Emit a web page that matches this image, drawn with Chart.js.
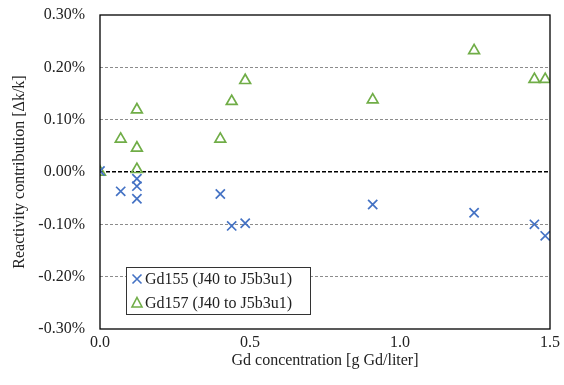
<!DOCTYPE html>
<html>
<head>
<meta charset="utf-8">
<script src="https://cdn.jsdelivr.net/npm/chart.js@4/dist/chart.umd.min.js"></script>
<style>
  html, body { margin: 0; padding: 0; background: #fff; }
  #wrap { width: 564px; height: 385px; position: relative; }
</style>
</head>
<body>
<div id="wrap"><canvas id="chart"></canvas></div>
<script>
// Gd concentration [g Gd/liter]
const gd155X = [0.0, 0.069, 0.123, 0.123, 0.123, 0.401, 0.439, 0.484, 0.909, 1.247, 1.448, 1.484];
const gd155Y = [0.002, -0.037, -0.013, -0.027, -0.051, -0.042, -0.103, -0.098, -0.062, -0.078, -0.100, -0.122];

const gd157X = [0.0, 0.069, 0.123, 0.123, 0.123, 0.401, 0.439, 0.484, 0.909, 1.247, 1.448, 1.484];
const gd157Y = [0.0, 0.063, 0.119, 0.046, 0.005, 0.063, 0.135, 0.175, 0.138, 0.232, 0.177, 0.177];

const seriesLabels = ["Gd155 (J40 to J5b3u1)", "Gd157 (J40 to J5b3u1)"];
const xTicks = [0, 0.5, 1.0, 1.5];
const yTicks = [-0.3, -0.2, -0.1, 0, 0.1, 0.2, 0.3];

const BLUE = "#4472C4";
const GREEN = "#70AD47";
const FONT = "'Liberation Serif', 'Times New Roman', serif";

const toPoints = (xs, ys) => xs.map((x, i) => ({ x, y: ys[i] }));

// frame + in-plot legend
const framePlugin = {
  id: "frame",
  afterDraw(chart) {
    const { ctx, chartArea: a } = chart;
    ctx.save();
    ctx.strokeStyle = "#000";
    ctx.lineWidth = 1.3;
    ctx.strokeRect(a.left, a.top, a.right - a.left, a.bottom - a.top);

    // legend box
    const bx = 126, by = 267, bw = 184, bh = 47;
    ctx.fillStyle = "#fff";
    ctx.fillRect(bx, by, bw, bh);
    ctx.strokeStyle = "#333";
    ctx.lineWidth = 1;
    ctx.strokeRect(bx + 0.5, by + 0.5, bw, bh);

    const rows = [by + 12, by + 36];
    // cross
    ctx.strokeStyle = BLUE;
    ctx.lineWidth = 1.6;
    ctx.beginPath();
    const cx = 137, s = 4.5;
    ctx.moveTo(cx - s, rows[0] - s); ctx.lineTo(cx + s, rows[0] + s);
    ctx.moveTo(cx + s, rows[0] - s); ctx.lineTo(cx - s, rows[0] + s);
    ctx.stroke();
    // triangle
    ctx.strokeStyle = GREEN;
    ctx.beginPath();
    ctx.moveTo(cx, rows[1] - 5.5);
    ctx.lineTo(cx + 5, rows[1] + 4);
    ctx.lineTo(cx - 5, rows[1] + 4);
    ctx.closePath();
    ctx.stroke();

    ctx.fillStyle = "#222";
    ctx.font = "16px " + FONT;
    ctx.textBaseline = "middle";
    ctx.fillText(seriesLabels[0], 145, rows[0] + 1);
    ctx.fillText(seriesLabels[1], 145, rows[1] + 1);
    ctx.restore();
  }
};

new Chart(document.getElementById("chart"), {
  type: "scatter",
  data: {
    datasets: [
      {
        label: seriesLabels[0],
        data: toPoints(gd155X, gd155Y),
        pointStyle: "crossRot",
        pointRadius: 6.5,
        pointHoverRadius: 6.5,
        borderColor: BLUE,
        backgroundColor: BLUE,
        pointBorderWidth: 1.7,
      },
      {
        label: seriesLabels[1],
        data: toPoints(gd157X, gd157Y),
        pointStyle: "triangle",
        pointRadius: 6.2,
        pointHoverRadius: 6.2,
        borderColor: GREEN,
        backgroundColor: "rgba(0,0,0,0)",
        pointBorderWidth: 1.7,
      },
    ],
  },
  options: {
    responsive: true,
    maintainAspectRatio: false,
    animation: false,
    layout: { padding: { top: 15, right: 14, left: 0, bottom: 0 } },
    plugins: {
      legend: { display: false },
      tooltip: { enabled: false },
    },
    scales: {
      x: {
        type: "linear",
        min: 0,
        max: 1.5,
        afterBuildTicks: (scale) => { scale.ticks = xTicks.map((v) => ({ value: v })); },
        afterFit: (scale) => { scale.height = 56; scale.paddingLeft = 0; scale.paddingRight = 0; },
        ticks: {
          padding: 4,
          color: "#222",
          font: { family: FONT, size: 16 },
          callback: (v) => Number(v).toFixed(1),
        },
        grid: { display: false, drawTicks: false },
        border: { display: false },
        title: {
          display: true,
          text: "Gd concentration [g Gd/liter]",
          color: "#222",
          font: { family: FONT, size: 16 },
          padding: { top: 0, bottom: 15 },
        },
      },
      y: {
        type: "linear",
        min: -0.3,
        max: 0.3,
        afterBuildTicks: (scale) => { scale.ticks = yTicks.map((v) => ({ value: v })); },
        afterFit: (scale) => { scale.width = 100; scale.paddingTop = 0; scale.paddingBottom = 0; },
        ticks: {
          padding: 15,
          color: "#222",
          font: { family: FONT, size: 16 },
          callback: (v) => (Math.round(v * 100) / 100).toFixed(2) + "%",
        },
        grid: {
          drawTicks: false,
          color: (c) => {
            const v = Math.round(c.tick.value * 100);
            if (v === 30 || v === -30) return "rgba(0,0,0,0)";
            return v === 0 ? "#000" : "#8c8c8c";
          },
          lineWidth: (c) => (Math.round(c.tick.value * 100) === 0 ? 1.4 : 1),
        },
        border: {
          display: false,
          dash: (c) => (c.tick && Math.round(c.tick.value * 100) === 0 ? [4, 2] : [3, 2]),
        },
        title: {
          display: true,
          text: "Reactivity contribution [Δk/k]",
          color: "#222",
          font: { family: FONT, size: 16 },
          padding: { top: 10, bottom: 0 },
        },
      },
    },
  },
  plugins: [framePlugin],
});
</script>
</body>
</html>
